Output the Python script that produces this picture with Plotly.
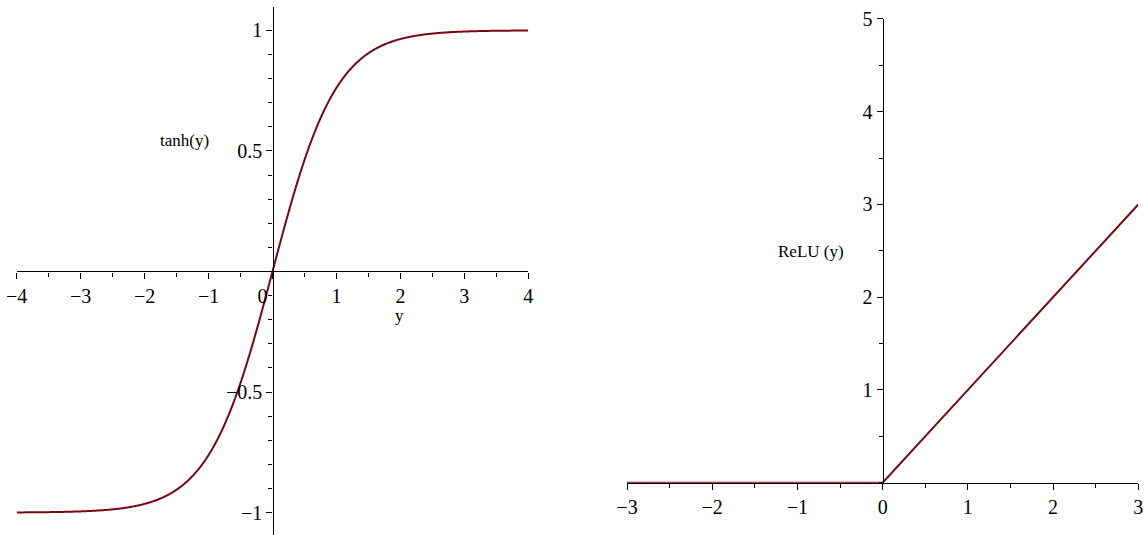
import numpy as np
import plotly.graph_objects as go

# ---- data -------------------------------------------------------------
# tanh panel: sample grid over the plotted interval
tanh_x = np.linspace(-4, 4, 801)
tanh_y = np.tanh(tanh_x)

# ReLU panel: piecewise-linear, so its break points are enough
relu_x = [-3, 0, 3]
relu_y = [0, 0, 3]

# tick values / labels
tanh_xticks = [-4, -3, -2, -1, 0, 1, 2, 3, 4]
tanh_xtext = ["\u22124", "\u22123", "\u22122", "\u22121", "0\u2007\u2007", "1", "2", "3", "4"]
tanh_yticks = [-1, -0.5, 0.5, 1]
tanh_ytext = ["\u22121", "\u22120.5", "0.5", "1"]

relu_xticks = [-3, -2, -1, 0, 1, 2, 3]
relu_xtext = ["\u22123", "\u22122", "\u22121", "0", "1", "2", "3"]
relu_yticks = [1, 2, 3, 4, 5]
relu_ytext = ["1", "2", "3", "4", "5"]

# ---- layout constants ---------------------------------------------------
W, H = 1145, 535
LINE_COLOR = "#7a0610"
FONT = "Liberation Serif"
TICK_SIZE = 20
LABEL_SIZE = 17

# panel geometry: domains (paper fractions) and data ranges
L_XDOM, L_XRNG = [0.01459, 0.4614], [-4, 4]
L_YDOM, L_YRNG = [0.0, 0.987], [-1.093, 1.097]
R_XDOM, R_XRNG = [0.5476, 0.99415], [-3, 3]
R_YDOM, R_YRNG = [0.0978, 0.9645], [0, 5]


def zero_pos(dom, rng):
    """Paper fraction where the value 0 falls on an axis."""
    return dom[0] + (0 - rng[0]) / (rng[1] - rng[0]) * (dom[1] - dom[0])


fig = go.Figure()
fig.add_trace(go.Scatter(x=tanh_x, y=tanh_y, mode="lines",
                         line=dict(color=LINE_COLOR, width=2, simplify=False),
                         xaxis="x", yaxis="y", cliponaxis=False,
                         showlegend=False, hoverinfo="skip"))
fig.add_trace(go.Scatter(x=relu_x, y=relu_y, mode="lines",
                         line=dict(color=LINE_COLOR, width=2, simplify=False),
                         xaxis="x2", yaxis="y2", cliponaxis=False,
                         showlegend=False, hoverinfo="skip"))

tickfont = dict(family=FONT, size=TICK_SIZE, color="black")
common = dict(showgrid=False, zeroline=False, showline=True, automargin=False,
              linecolor="black", linewidth=1.3,
              ticks="outside", ticklen=6, tickwidth=1.2, tickcolor="black",
              tickfont=tickfont, fixedrange=True)

fig.update_layout(
    width=W, height=H,
    margin=dict(l=0, r=0, t=0, b=0, autoexpand=False),
    paper_bgcolor="white", plot_bgcolor="white",
    xaxis=dict(domain=L_XDOM, range=L_XRNG, anchor="free",
               position=zero_pos(L_YDOM, L_YRNG),
               tickvals=tanh_xticks, ticktext=tanh_xtext,
               minor=dict(dtick=0.5, tick0=0, ticks="outside", ticklen=4,
                          tickcolor="black", tickwidth=1),
               **common),
    yaxis=dict(domain=L_YDOM, range=L_YRNG, anchor="free",
               position=zero_pos(L_XDOM, L_XRNG),
               tickvals=tanh_yticks, ticktext=tanh_ytext,
               minor=dict(dtick=0.1, tick0=0, ticks="outside", ticklen=4,
                          tickcolor="black", tickwidth=1),
               **common),
    xaxis2=dict(domain=R_XDOM, range=R_XRNG, anchor="y2",
                tickvals=relu_xticks, ticktext=relu_xtext,
                minor=dict(dtick=0.5, tick0=0, ticks="outside", ticklen=4,
                           tickcolor="black", tickwidth=1),
                **common),
    yaxis2=dict(domain=R_YDOM, range=R_YRNG, anchor="free",
                position=zero_pos(R_XDOM, R_XRNG),
                tickvals=relu_yticks, ticktext=relu_ytext,
                minor=dict(dtick=0.5, tick0=0, ticks="outside", ticklen=4,
                           tickcolor="black", tickwidth=1),
                **common),
)

labelfont = dict(family=FONT, size=LABEL_SIZE, color="black")
fig.add_annotation(text="tanh(y)", x=-1.38, y=0.542, xref="x", yref="y",
                   showarrow=False, font=labelfont)
fig.add_annotation(text="y", x=1.98, y=-0.184, xref="x", yref="y",
                   showarrow=False, font=labelfont)
fig.add_annotation(text="ReLU (y)", x=-0.84, y=2.49, xref="x2", yref="y2",
                   showarrow=False, font=labelfont)
fig.add_annotation(text="y", x=1.49, y=-0.456, xref="x2", yref="y2",
                   showarrow=False, font=labelfont)

fig.write_html("out.html", config=dict(displayModeBar=False))
